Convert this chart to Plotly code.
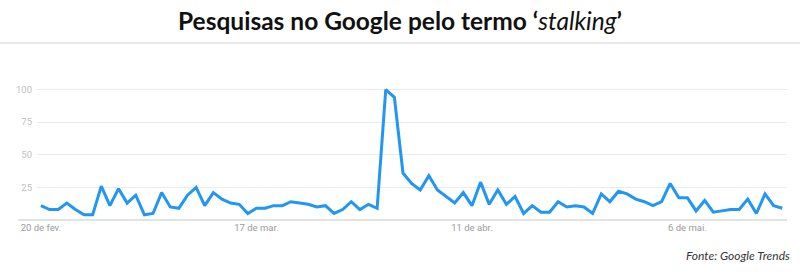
import plotly.graph_objects as go
import pandas as pd

start_date = "2021-02-20"
values = [11, 8, 8, 13, 8, 4, 4, 26, 11, 24, 13, 19, 4, 5, 21, 10, 9, 19, 25, 11,
          21, 16, 13, 12, 5, 9, 9, 11, 11, 14, 13, 12, 10, 11, 5, 8, 14, 8, 12, 9,
          100, 94, 36, 28, 23, 34, 23, 18, 13, 21, 11, 29, 12, 23, 12, 18, 5, 11, 6, 6,
          14, 10, 11, 10, 5, 20, 14, 22, 20, 16, 14, 11, 14, 28, 17, 17, 7, 15, 6, 7,
          8, 8, 16, 5, 20, 11, 9]
dates = pd.date_range(start_date, periods=len(values), freq="D")

tick_dates = ["2021-02-20", "2021-03-17", "2021-04-11", "2021-05-06"]
tick_labels = ["20 de fev.", "17 de mar.", "11 de abr.", "6 de mai."]
y_ticks = [25, 50, 75, 100]

title_text = "<b>Pesquisas no Google pelo termo ‘</b><i>stalking</i><b>’</b>"
source_text = "<i>Fonte: Google Trends</i>"

fig = go.Figure()
fig.add_trace(go.Scatter(x=dates, y=values, mode="lines",
                         line=dict(color="#2196f3", width=3),
                         hoverinfo="x+y", cliponaxis=False))

x0 = pd.Timestamp(start_date) - pd.Timedelta(hours=11)
x1 = pd.Timestamp(start_date) + pd.Timedelta(days=86.55)

fig.update_layout(
    width=800, height=279,
    margin=dict(l=37, r=13, t=83, b=59),
    paper_bgcolor="white", plot_bgcolor="white",
    showlegend=False,
    xaxis=dict(range=[x0, x1], tickvals=pd.to_datetime(tick_dates), ticktext=tick_labels,
               showgrid=False, zeroline=False, showline=False, ticks="",
               tickfont=dict(family="Roboto", size=9.5, color="#9a9a9a")),
    yaxis=dict(range=[0, 105], tickvals=y_ticks, showgrid=True, gridcolor="#ebebeb",
               gridwidth=1, zeroline=False, showline=False, ticks="",
               tickfont=dict(family="Roboto", size=9.5, color="#c0c0c0")),
    shapes=[
        dict(type="line", xref="paper", yref="paper", x0=-19/750, x1=1, y0=0, y1=0,
             line=dict(color="#c8c8c8", width=1.2), layer="below"),
        dict(type="line", xref="paper", yref="paper", x0=-37/750, x1=763/750,
             y0=(279-59-43)/137, y1=(279-59-43)/137,
             line=dict(color="#e8e8e8", width=2)),
    ],
    annotations=[
        dict(text=title_text, xref="paper", yref="paper", x=(400-37)/750, y=(279-59-20)/137,
             xanchor="center", yanchor="middle", showarrow=False,
             font=dict(family="Lato", size=24.5, color="#111111")),
        dict(text=source_text, xref="paper", yref="paper", x=(792-37)/750, y=-(255-220)/137,
             xanchor="right", yanchor="middle", showarrow=False,
             font=dict(family="Lato", size=12, color="#333333")),
    ],
)
fig.update_yaxes(ticklabelstandoff=4)

fig.write_html("out.html")
